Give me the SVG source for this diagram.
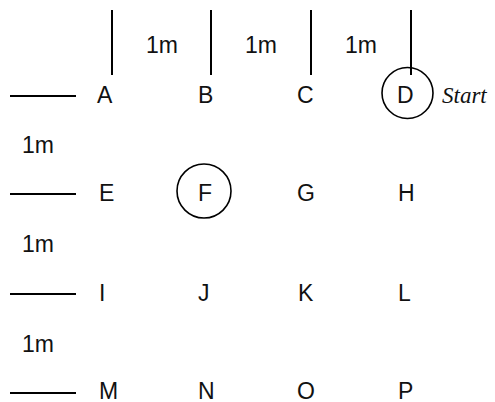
<svg xmlns="http://www.w3.org/2000/svg" width="495" height="402" viewBox="0 0 495 402">
<style>
.lbl{font-family:"Liberation Sans",Arial,sans-serif;font-size:23px;fill:#111}
.st{font-family:"Liberation Serif","Times New Roman",serif;font-style:italic;font-size:23px;fill:#111}
.ln{stroke:#000;stroke-width:2;fill:none}
.ring{stroke:#000;stroke-width:1.6;fill:none}
</style>
<rect width="495" height="402" fill="#fff"/>
<g id="connectors">
<line class="ln" x1="112" y1="10" x2="112" y2="75"/>
<line class="ln" x1="211" y1="10" x2="211" y2="75"/>
<line class="ln" x1="311" y1="10" x2="311" y2="75"/>
<line class="ln" x1="411" y1="10" x2="411" y2="75"/>
<line class="ln" x1="10" y1="96" x2="76" y2="96"/>
<line class="ln" x1="10" y1="194" x2="76" y2="194"/>
<line class="ln" x1="10" y1="294" x2="76" y2="294"/>
<line class="ln" x1="10" y1="393" x2="76" y2="393"/>
</g>
<g id="dims">
<text class="lbl" x="146" y="53">1m</text>
<text class="lbl" x="245" y="53">1m</text>
<text class="lbl" x="345" y="53">1m</text>
<text class="lbl" x="22" y="153">1m</text>
<text class="lbl" x="22" y="252">1m</text>
<text class="lbl" x="22" y="352">1m</text>
</g>
<g id="A"><text class="lbl" x="97" y="103">A</text></g>
<g id="B"><text class="lbl" x="198" y="103">B</text></g>
<g id="C"><text class="lbl" x="297" y="103">C</text></g>
<g id="D"><circle class="ring" cx="407.5" cy="93" r="25.5"/><text class="lbl" x="397" y="103">D</text></g>
<g id="start"><text class="st" x="442" y="103">Start</text></g>
<g id="E"><text class="lbl" x="99" y="201">E</text></g>
<g id="F"><circle class="ring" cx="204" cy="191" r="27"/><text class="lbl" x="198" y="201">F</text></g>
<g id="G"><text class="lbl" x="297" y="201">G</text></g>
<g id="H"><text class="lbl" x="398" y="201">H</text></g>
<g id="I"><text class="lbl" x="99" y="301">I</text></g>
<g id="J"><text class="lbl" x="198" y="301">J</text></g>
<g id="K"><text class="lbl" x="298" y="301">K</text></g>
<g id="L"><text class="lbl" x="398" y="301">L</text></g>
<g id="M"><text class="lbl" x="99" y="399">M</text></g>
<g id="N"><text class="lbl" x="198" y="399">N</text></g>
<g id="O"><text class="lbl" x="297" y="399">O</text></g>
<g id="P"><text class="lbl" x="398" y="399">P</text></g>
</svg>
